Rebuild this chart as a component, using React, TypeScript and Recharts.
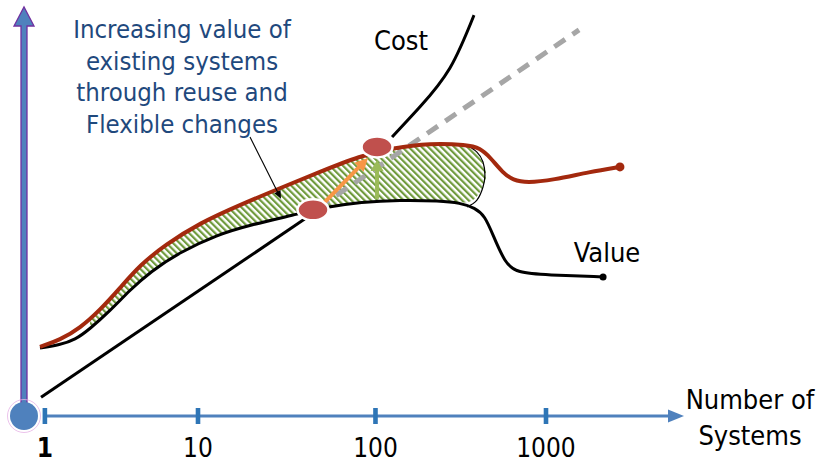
import React from 'react';
import {
  ComposedChart,
  Line,
  Area,
  XAxis,
  YAxis,
  ReferenceLine,
  ReferenceDot,
} from 'recharts';

// x: decades of "number of systems" (0 = 1 system), y: relative value / cost (0..100)

const tickPositions = [0.12, 1.0, 2.02, 3.0];
const tickLabels = ['1', '10', '100', '1000'];

// Original value curve of the existing systems
const valueCurve = [
  { x: 0.092, y: 16.6 },
  { x: 0.207, y: 17.4 },
  { x: 0.293, y: 18.6 },
  { x: 0.379, y: 21.3 },
  { x: 0.494, y: 25.7 },
  { x: 0.609, y: 30.8 },
  { x: 0.724, y: 35.2 },
  { x: 0.897, y: 40.1 },
  { x: 1.109, y: 44.3 },
  { x: 1.299, y: 46.7 },
  { x: 1.546, y: 49.1 },
  { x: 1.759, y: 51.3 },
  { x: 1.931, y: 52.3 },
  { x: 2.161, y: 52.8 },
  { x: 2.391, y: 52.6 },
  { x: 2.506, y: 52.1 },
  { x: 2.592, y: 50.9 },
  { x: 2.649, y: 48.9 },
  { x: 2.695, y: 44.3 },
  { x: 2.764, y: 37.4 },
  { x: 2.833, y: 35.0 },
  { x: 3.006, y: 34.5 },
  { x: 3.328, y: 34.0 },
];

// Value after reuse and flexible changes
const improvedValueCurve = [
  { x: 0.092, y: 16.9 },
  { x: 0.207, y: 18.6 },
  { x: 0.322, y: 21.5 },
  { x: 0.437, y: 25.9 },
  { x: 0.552, y: 31.3 },
  { x: 0.667, y: 36.9 },
  { x: 0.81, y: 41.8 },
  { x: 1.011, y: 47.2 },
  { x: 1.241, y: 51.6 },
  { x: 1.471, y: 55.7 },
  { x: 1.701, y: 59.7 },
  { x: 1.931, y: 63.6 },
  { x: 2.121, y: 65.5 },
  { x: 2.333, y: 66.7 },
  { x: 2.546, y: 66.3 },
  { x: 2.621, y: 65.5 },
  { x: 2.678, y: 63.3 },
  { x: 2.753, y: 59.4 },
  { x: 2.81, y: 57.7 },
  { x: 2.891, y: 57.0 },
  { x: 3.04, y: 57.7 },
  { x: 3.253, y: 59.7 },
  { x: 3.425, y: 60.9 },
];

// Cost: linear part, then the steep part after the break
const costLinear = [
  { x: 0.098, y: 4.6 },
  { x: 1.615, y: 48.2 },
];

const costSteep = [
  { x: 2.115, y: 68.2 },
  { x: 2.276, y: 75.6 },
  { x: 2.448, y: 85.1 },
  { x: 2.586, y: 98.0 },
];

// Linear cost trend continued
const costTrend = [
  { x: 1.69, y: 50.9 },
  { x: 3.19, y: 94.4 },
];

// Gain between the two value curves
const gainBand = [
  { x: 0.379, band: [21.3, 23.5] },
  { x: 0.494, band: [25.7, 28.9] },
  { x: 0.609, band: [30.8, 34.2] },
  { x: 0.724, band: [35.2, 38.9] },
  { x: 0.897, band: [40.1, 44.4] },
  { x: 1.109, band: [44.3, 49.2] },
  { x: 1.299, band: [46.7, 52.7] },
  { x: 1.546, band: [49.1, 57.0] },
  { x: 1.759, band: [51.3, 60.7] },
  { x: 1.931, band: [52.3, 63.6] },
  { x: 2.161, band: [52.8, 65.8] },
  { x: 2.391, band: [52.6, 66.7] },
  { x: 2.546, band: [51.8, 66.3] },
  { x: 2.603, band: [53.3, 64.5] },
  { x: 2.638, band: [56.0, 62.1] },
  { x: 2.655, band: [58.2, 59.6] },
];

const gainBandEdge = [
  { x: 2.546, y: 51.1 },
  { x: 2.603, y: 52.8 },
  { x: 2.638, y: 56.0 },
  { x: 2.649, y: 58.9 },
  { x: 2.638, y: 62.1 },
  { x: 2.603, y: 64.5 },
  { x: 2.546, y: 66.3 },
];

// Break-even points
const lowerBreakEven = { x: 1.661, y: 50.4 };
const upperBreakEven = { x: 2.029, y: 65.8 };

const noteLines = [
  'Increasing value of',
  'existing systems',
  'through reuse and',
  'Flexible changes',
];

const FONT = "'DejaVu Sans Condensed', 'DejaVu Sans', sans-serif";
const RED_LINE = '#a3290e';
const DOT_RED = '#c0504d';
const AXIS_BLUE = '#4f81bd';
const TICK_BLUE = '#2e75b6';

const arrowShape =
  (color: string, width: number, headLen: number, headHalf: number) =>
  (p: any) => {
    const { x1, y1, x2, y2 } = p;
    const dx = x2 - x1;
    const dy = y2 - y1;
    const len = Math.sqrt(dx * dx + dy * dy) || 1;
    const ux = dx / len;
    const uy = dy / len;
    const bx = x2 - ux * headLen;
    const by = y2 - uy * headLen;
    const nx = -uy;
    const ny = ux;
    return (
      <g>
        <line
          x1={x1}
          y1={y1}
          x2={x2 - ux * headLen * 0.7}
          y2={y2 - uy * headLen * 0.7}
          stroke={color}
          strokeWidth={width}
        />
        <polygon
          points={`${x2},${y2} ${bx + nx * headHalf},${by + ny * headHalf} ${bx - nx * headHalf},${by - ny * headHalf}`}
          fill={color}
        />
      </g>
    );
  };

const yAxisArrow = (p: any) => {
  const { x1, y1, y2 } = p;
  const top = Math.min(y1, y2);
  const bottom = Math.max(y1, y2);
  const cx = x1;
  const half = 3;
  const headHalf = 10;
  const headLen = 19;
  const d = `M${cx - half},${bottom} L${cx - half},${top + headLen} L${cx - headHalf},${top + headLen} L${cx},${top} L${cx + headHalf},${top + headLen} L${cx + half},${top + headLen} L${cx + half},${bottom} Z`;
  return <path d={d} fill={AXIS_BLUE} stroke="#7030a0" strokeWidth={1.3} />;
};

const breakEvenShape = (p: any) => (
  <ellipse cx={p.cx} cy={p.cy} rx={15.5} ry={10.5} fill={DOT_RED} stroke="#ffffff" strokeWidth={2.5} />
);

const originShape = (p: any) => (
  <g>
    <circle cx={p.cx} cy={p.cy} r={16.5} fill="none" stroke="#e6b3e6" strokeWidth={0.8} />
    <circle cx={p.cx} cy={p.cy} r={14} fill={AXIS_BLUE} />
  </g>
);

const endDot = (color: string, r: number, last: number) => (p: any) =>
  p.index === last ? (
    <circle key={`end-${p.index}`} cx={p.cx} cy={p.cy} r={r} fill={color} />
  ) : (
    <g key={`n-${p.index}`} />
  );

const XTick = (p: any) => {
  const { x, y, index } = p;
  return (
    <g>
      <rect x={x - 2.3} y={y - 8} width={4.6} height={16} fill={TICK_BLUE} />
      <text
        x={x}
        y={y + 41}
        textAnchor="middle"
        fontFamily={FONT}
        fontSize={26}
        fontWeight={index === 0 ? 'bold' : 'normal'}
        fill="#000"
      >
        {tickLabels[index]}
      </text>
    </g>
  );
};

export default function App() {
  return (
    <div style={{ position: 'absolute', left: 0, top: 0, width: 822, height: 462, background: '#fff' }}>
      <ComposedChart width={822} height={462} margin={{ top: 7, right: 102, bottom: 0, left: 24 }}>
        <defs>
          <pattern
            id="gainHatch"
            patternUnits="userSpaceOnUse"
            width={4.6}
            height={4.6}
            patternTransform="rotate(-45)"
          >
            <rect x={0} y={0} width={4.6} height={4.6} fill="#ffffff" />
            <rect x={0} y={0} width={2.2} height={4.6} fill="#6f9a3c" />
          </pattern>
        </defs>
        <XAxis
          type="number"
          dataKey="x"
          domain={[0, 4]}
          ticks={tickPositions}
          interval={0}
          axisLine={false}
          tickLine={false}
          tickSize={0}
          tickMargin={0}
          height={46}
          tick={<XTick />}
          allowDataOverflow
        />
        <YAxis type="number" domain={[0, 100]} hide allowDataOverflow />

        <Area
          data={gainBand}
          dataKey="band"
          type="basis"
          stroke="none"
          fill="url(#gainHatch)"
          fillOpacity={1}
          isAnimationActive={false}
        />
        <Line
          data={gainBandEdge}
          dataKey="y"
          type="natural"
          stroke="#000"
          strokeWidth={1.2}
          dot={false}
          isAnimationActive={false}
        />
        <Line
          data={valueCurve}
          dataKey="y"
          type="basis"
          stroke="#000"
          strokeWidth={3}
          dot={endDot('#000', 3.5, valueCurve.length - 1)}
          isAnimationActive={false}
        />
        <Line
          data={costTrend}
          dataKey="y"
          type="linear"
          stroke="#a6a6a6"
          strokeWidth={5}
          strokeDasharray="13 9"
          dot={false}
          isAnimationActive={false}
        />
        <Line
          data={costLinear}
          dataKey="y"
          type="linear"
          stroke="#000"
          strokeWidth={3}
          dot={false}
          isAnimationActive={false}
        />
        <Line
          data={costSteep}
          dataKey="y"
          type="natural"
          stroke="#000"
          strokeWidth={3}
          dot={false}
          isAnimationActive={false}
        />
        <Line
          data={improvedValueCurve}
          dataKey="y"
          type="basis"
          stroke={RED_LINE}
          strokeWidth={4}
          dot={endDot(RED_LINE, 4.5, improvedValueCurve.length - 1)}
          isAnimationActive={false}
        />

        {/* axes drawn as arrows */}
        <ReferenceLine
          segment={[
            { x: 0, y: 0 },
            { x: 0, y: 100 },
          ]}
          ifOverflow="visible"
          shape={yAxisArrow}
        />
        <ReferenceLine
          segment={[
            { x: 0.12, y: 0 },
            { x: 3.793, y: 0 },
          ]}
          ifOverflow="visible"
          shape={arrowShape(AXIS_BLUE, 3, 16, 6.5)}
        />
        <ReferenceDot x={0} y={0} r={14} ifOverflow="visible" shape={originShape} />

        {/* pointer from the note to the gain band */}
        <ReferenceLine
          segment={[
            { x: 1.299, y: 68.2 },
            { x: 1.477, y: 53.1 },
          ]}
          ifOverflow="visible"
          shape={arrowShape('#000', 1.1, 8, 3.5)}
        />

        {/* break-even shift */}
        <ReferenceLine
          segment={[
            { x: 1.713, y: 51.6 },
            { x: 1.977, y: 63.1 },
          ]}
          ifOverflow="visible"
          shape={arrowShape('#f79646', 4, 13, 6.5)}
        />
        <ReferenceLine
          segment={[
            { x: 2.029, y: 53.1 },
            { x: 2.029, y: 62.6 },
          ]}
          ifOverflow="visible"
          shape={arrowShape('#9bbb59', 4, 11, 6.5)}
        />
        <ReferenceDot x={lowerBreakEven.x} y={lowerBreakEven.y} r={12} ifOverflow="visible" shape={breakEvenShape} />
        <ReferenceDot x={upperBreakEven.x} y={upperBreakEven.y} r={12} ifOverflow="visible" shape={breakEvenShape} />
      </ComposedChart>

      <svg
        width={822}
        height={462}
        style={{ position: 'absolute', left: 0, top: 0, pointerEvents: 'none' }}
      >
        <g fontFamily={FONT} fontSize={25.5} fill="#1f497d" textAnchor="middle">
          {noteLines.map((line, i) => (
            <text key={line} x={182} y={38 + i * 31.5}>
              {line}
            </text>
          ))}
        </g>
        <g fontFamily={FONT} fontSize={27} fill="#000" textAnchor="middle">
          <text x={401} y={50}>Cost</text>
          <text x={607} y={262}>Value</text>
          <text x={750} y={409}>Number of</text>
          <text x={750} y={445}>Systems</text>
        </g>
      </svg>
    </div>
  );
}
